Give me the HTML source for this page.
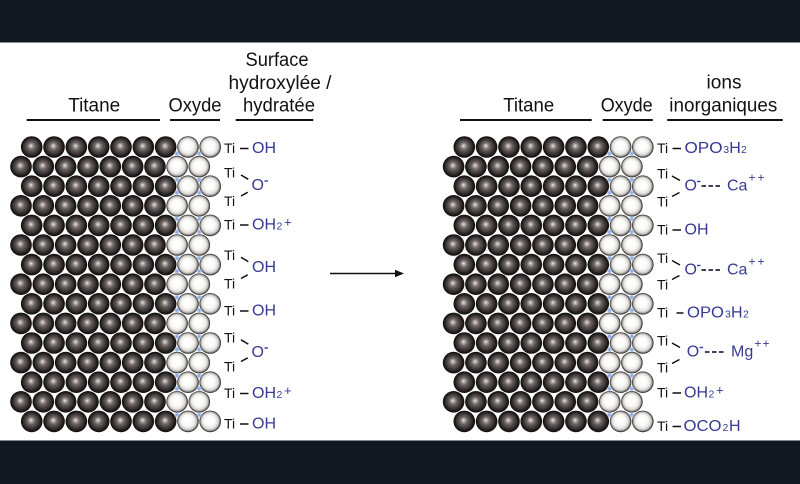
<!DOCTYPE html>
<html><head><meta charset="utf-8">
<style>
html,body{margin:0;padding:0;background:#fff;}
svg{display:block;}
text{font-family:"Liberation Sans",Arial,sans-serif;}
.h{font-size:19px;fill:#111;}
.k{font-size:14px;fill:#111;}
.b{font-size:16px;fill:#373a93;}
.s{font-size:10.5px;fill:#373a93;}
.p{font-size:13px;fill:#373a93;}
.pp{font-size:12px;fill:#373a93;}
</style></head>
<body>
<svg width="800" height="484" viewBox="0 0 800 484" xmlns="http://www.w3.org/2000/svg">
<defs>
<radialGradient id="gd" cx="0.5" cy="0.5" r="0.5" fx="0.46" fy="0.44">
<stop offset="0" stop-color="#f2f0f0"/>
<stop offset="0.13" stop-color="#b3adab"/>
<stop offset="0.36" stop-color="#6a6362"/>
<stop offset="0.66" stop-color="#3e3837"/>
<stop offset="0.86" stop-color="#1f1b1b"/>
<stop offset="1" stop-color="#0c0a0a"/>
</radialGradient>
<radialGradient id="gl" cx="0.5" cy="0.5" r="0.5" fx="0.44" fy="0.42">
<stop offset="0" stop-color="#ffffff"/>
<stop offset="0.45" stop-color="#fbfbf9"/>
<stop offset="0.70" stop-color="#e5e4e1"/>
<stop offset="0.84" stop-color="#b9b8b5"/>
<stop offset="0.93" stop-color="#5a5957"/>
<stop offset="1" stop-color="#1c1c1c"/>
</radialGradient>
<radialGradient id="gb" cx="0.5" cy="0.5" r="0.5">
<stop offset="0" stop-color="#7f9be0"/>
<stop offset="0.6" stop-color="#a9bbea" stop-opacity="0.9"/>
<stop offset="1" stop-color="#c8d4f2" stop-opacity="0"/>
</radialGradient>
<circle id="d" r="10.8" fill="url(#gd)"/>
<circle id="l" r="10.8" fill="url(#gl)"/>
<circle id="bd" r="3" fill="url(#gb)"/>
<g id="re">
<use href="#d" x="31.7"/><use href="#d" x="54.03"/><use href="#d" x="76.36"/><use href="#d" x="98.69"/><use href="#d" x="121.02"/><use href="#d" x="143.35"/><use href="#d" x="165.68"/>
<use href="#l" x="188"/><use href="#l" x="210.2"/>
</g>
<g id="ro">
<use href="#d" x="21"/><use href="#d" x="43.33"/><use href="#d" x="65.66"/><use href="#d" x="87.99"/><use href="#d" x="110.32"/><use href="#d" x="132.65"/><use href="#d" x="154.98"/>
<use href="#l" x="177.1"/><use href="#l" x="199.3"/>
</g>
<g id="dp"><use href="#bd" x="176.9"/><use href="#bd" x="199.2"/></g>
<g id="dia">
<use href="#re" y="147"/>
<use href="#ro" y="166.6"/>
<use href="#re" y="186.2"/>
<use href="#ro" y="205.8"/>
<use href="#re" y="225.4"/>
<use href="#ro" y="245"/>
<use href="#re" y="264.6"/>
<use href="#ro" y="284.2"/>
<use href="#re" y="303.8"/>
<use href="#ro" y="323.4"/>
<use href="#re" y="343"/>
<use href="#ro" y="362.6"/>
<use href="#re" y="382.2"/>
<use href="#ro" y="401.8"/>
<use href="#re" y="421.4"/>
<use href="#dp" y="153.5"/>
<use href="#dp" y="179.7"/><use href="#dp" y="192.7"/>
<use href="#dp" y="218.9"/><use href="#dp" y="231.9"/>
<use href="#dp" y="258.1"/><use href="#dp" y="271.1"/>
<use href="#dp" y="297.3"/><use href="#dp" y="310.3"/>
<use href="#dp" y="336.5"/><use href="#dp" y="349.5"/>
<use href="#dp" y="375.7"/><use href="#dp" y="388.7"/>
<use href="#dp" y="414.9"/>
</g>
</defs>

<rect x="0" y="0" width="800" height="484" fill="#ffffff"/>
<rect x="0" y="0" width="800" height="42.5" fill="#121820"/>
<rect x="0" y="440.5" width="800" height="43.5" fill="#121820"/>

<!-- Left headers -->
<text class="h" x="94.2" y="111.5" text-anchor="middle" textLength="52" lengthAdjust="spacingAndGlyphs">Titane</text>
<text class="h" x="195" y="111.5" text-anchor="middle" textLength="53" lengthAdjust="spacingAndGlyphs">Oxyde</text>
<text class="h" x="277" y="66" text-anchor="middle" textLength="63" lengthAdjust="spacingAndGlyphs">Surface</text>
<text class="h" x="280" y="89" text-anchor="middle" textLength="103" lengthAdjust="spacingAndGlyphs">hydroxylée /</text>
<text class="h" x="279" y="111.5" text-anchor="middle" textLength="72" lengthAdjust="spacingAndGlyphs">hydratée</text>
<g stroke="#111" stroke-width="2">
<line x1="26.7" y1="120" x2="160" y2="120"/>
<line x1="170" y1="120" x2="220" y2="120"/>
<line x1="235.7" y1="120" x2="313.3" y2="120"/>
<line x1="460" y1="120" x2="591.7" y2="120"/>
<line x1="602.7" y1="120" x2="652.7" y2="120"/>
<line x1="667.3" y1="120" x2="782.7" y2="120"/>
</g>

<!-- Right headers -->
<text class="h" x="528.7" y="111.5" text-anchor="middle" textLength="51" lengthAdjust="spacingAndGlyphs">Titane</text>
<text class="h" x="626.7" y="111.5" text-anchor="middle" textLength="52" lengthAdjust="spacingAndGlyphs">Oxyde</text>
<text class="h" x="724" y="88.5" text-anchor="middle" textLength="35" lengthAdjust="spacingAndGlyphs">ions</text>
<text class="h" x="723.3" y="111.5" text-anchor="middle" textLength="108" lengthAdjust="spacingAndGlyphs">inorganiques</text>

<!-- Sphere diagrams -->
<use href="#dia"/>
<use href="#dia" x="432.6"/>

<!-- Arrow -->
<line x1="330" y1="273.5" x2="397" y2="273.5" stroke="#111" stroke-width="1.5"/>
<polygon points="404,273.5 395,269.8 395,277.2" fill="#111"/>

<!-- Left labels -->
<g stroke="#111" stroke-width="1.5" fill="none">
<line x1="240" y1="148.5" x2="248.5" y2="148.5"/>
<line x1="241" y1="175" x2="248.3" y2="179.3"/>
<line x1="241" y1="196" x2="247.7" y2="192.3"/>
<line x1="240" y1="225" x2="248.5" y2="225"/>
<line x1="241" y1="257.3" x2="248.3" y2="261.6"/>
<line x1="241" y1="278.5" x2="247.7" y2="274.8"/>
<line x1="240" y1="311" x2="248.5" y2="311"/>
<line x1="241" y1="339.8" x2="248.3" y2="344.1"/>
<line x1="241" y1="361.5" x2="247.7" y2="357.8"/>
<line x1="240" y1="393.5" x2="248.5" y2="393.5"/>
<line x1="240" y1="424" x2="248.5" y2="424"/>
</g>
<g stroke="#373a93" stroke-width="1.4">
<line x1="264.5" y1="181" x2="268" y2="181"/>
<line x1="264.5" y1="348" x2="268" y2="348"/>
</g>
<text class="k" x="224" y="153">Ti</text>
<text class="b" x="252" y="153">OH</text>

<text class="k" x="224" y="177.7">Ti</text>
<text class="k" x="224" y="206">Ti</text>
<text class="b" x="251.5" y="190">O</text>

<text class="k" x="224" y="229.5">Ti</text>
<text class="b" x="252" y="229.5">OH</text>
<text class="s" x="276.5" y="229.5">2</text>
<text class="p" x="284" y="226.5">+</text>

<text class="k" x="224" y="260">Ti</text>
<text class="k" x="224" y="288.5">Ti</text>
<text class="b" x="252" y="272">OH</text>

<text class="k" x="224" y="315.5">Ti</text>
<text class="b" x="252" y="315.5">OH</text>

<text class="k" x="224" y="342.5">Ti</text>
<text class="k" x="224" y="371.5">Ti</text>
<text class="b" x="251.5" y="357">O</text>

<text class="k" x="224" y="398">Ti</text>
<text class="b" x="252" y="398">OH</text>
<text class="s" x="276.5" y="398">2</text>
<text class="p" x="284" y="395">+</text>

<text class="k" x="224" y="428.5">Ti</text>
<text class="b" x="252" y="428.5">OH</text>

<!-- Right labels -->
<g stroke="#111" stroke-width="1.5" fill="none">
<line x1="672.5" y1="148.5" x2="681" y2="148.5"/>
<line x1="672" y1="176" x2="680" y2="180.5"/>
<line x1="672" y1="196.5" x2="679.5" y2="192.5"/>
<line x1="672.5" y1="230" x2="681" y2="230"/>
<line x1="672" y1="260.5" x2="680" y2="265"/>
<line x1="672" y1="279.5" x2="679.5" y2="275.5"/>
<line x1="676.5" y1="313" x2="683.5" y2="313"/>
<line x1="672" y1="343" x2="680" y2="347.5"/>
<line x1="672" y1="363.5" x2="679.5" y2="359.5"/>
<line x1="672.5" y1="393" x2="681" y2="393"/>
<line x1="672.5" y1="426.5" x2="681" y2="426.5"/>
</g>
<g stroke="#1e1e3a" stroke-width="1.7">
<line x1="701.5" y1="186" x2="706" y2="186"/><line x1="708.5" y1="186" x2="713" y2="186"/><line x1="715.5" y1="186" x2="720" y2="186"/>
<line x1="701.5" y1="270" x2="706" y2="270"/><line x1="708.5" y1="270" x2="713" y2="270"/><line x1="715.5" y1="270" x2="720" y2="270"/>
<line x1="705" y1="352" x2="709.5" y2="352"/><line x1="712" y1="352" x2="716.5" y2="352"/><line x1="719" y1="352" x2="723.5" y2="352"/>
</g>
<g stroke="#373a93" stroke-width="1.4">
<line x1="697" y1="181.5" x2="700.5" y2="181.5"/>
<line x1="697" y1="265.5" x2="700.5" y2="265.5"/>
<line x1="699.5" y1="347.5" x2="703" y2="347.5"/>
</g>

<text class="k" x="657" y="153">Ti</text>
<text class="b" x="684.5" y="153" textLength="38" lengthAdjust="spacingAndGlyphs">OPO</text>
<text class="s" x="723.3" y="153">3</text>
<text class="b" x="729.3" y="153">H</text>
<text class="s" x="741" y="153">2</text>

<text class="k" x="657" y="178.5">Ti</text>
<text class="k" x="657" y="206.5">Ti</text>
<text class="b" x="684.5" y="190.5">O</text>
<text class="b" x="727" y="190.5">Ca</text>
<text class="pp" x="748.5" y="181.5" textLength="16" lengthAdjust="spacing">++</text>

<text class="k" x="657" y="234.5">Ti</text>
<text class="b" x="684.5" y="234.5">OH</text>

<text class="k" x="657" y="263">Ti</text>
<text class="k" x="657" y="289.5">Ti</text>
<text class="b" x="684.5" y="274.5">O</text>
<text class="b" x="727" y="274.5">Ca</text>
<text class="pp" x="748.5" y="265.5" textLength="16" lengthAdjust="spacing">++</text>

<text class="k" x="657" y="317.5">Ti</text>
<text class="b" x="687" y="317.5" textLength="37" lengthAdjust="spacingAndGlyphs">OPO</text>
<text class="s" x="725" y="317.5">3</text>
<text class="b" x="731" y="317.5">H</text>
<text class="s" x="743" y="317.5">2</text>

<text class="k" x="657" y="345.5">Ti</text>
<text class="k" x="657" y="372.5">Ti</text>
<text class="b" x="686.7" y="356.5">O</text>
<text class="b" x="731" y="356.5">Mg</text>
<text class="pp" x="754.5" y="347.5" textLength="15" lengthAdjust="spacing">++</text>

<text class="k" x="657" y="397.5">Ti</text>
<text class="b" x="684" y="397.5">OH</text>
<text class="s" x="708.5" y="397.5">2</text>
<text class="p" x="716" y="394.5">+</text>

<text class="k" x="657" y="431">Ti</text>
<text class="b" x="683.5" y="431" textLength="38" lengthAdjust="spacingAndGlyphs">OCO</text>
<text class="s" x="722.5" y="431">2</text>
<text class="b" x="729" y="431">H</text>
</svg>
</body></html>
